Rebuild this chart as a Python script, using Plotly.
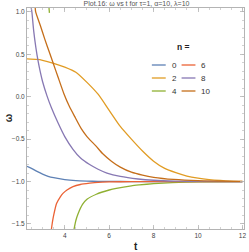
import plotly.graph_objects as go

# ---------------- data ----------------
names = ["0", "2", "4", "6", "8", "10"]
colors = ["#5E81B5", "#E19C24", "#8FB032", "#EB6235", "#8778B3", "#C56E1A"]

t0 = [2.3, 2.5, 2.75, 3.0, 3.25, 3.5, 4.0, 4.5, 5.0, 5.5, 6.0, 7.0, 8.0, 12.0]
w0 = [-0.82, -0.845, -0.88, -0.912, -0.938, -0.955, -0.978, -0.99, -0.995, -0.998, -0.999, -1.0, -1.0, -1.0]

t2 = [2.3, 2.75, 3.0, 3.5, 4.0, 4.5, 5.0, 5.5, 6.0, 6.5, 7.0, 7.5, 8.0, 8.5, 9.0, 9.5, 10.0, 10.5, 11.0, 11.5, 12.0]
w2 = [0.447, 0.44, 0.43, 0.395, 0.35, 0.29, 0.17, 0.03, -0.16, -0.35, -0.50, -0.64, -0.76, -0.845, -0.895, -0.935, -0.96, -0.977, -0.988, -0.995, -0.998]

t4 = [3.29, 3.31, None, 4.42, 4.5, 4.6, 4.8, 5.0, 5.42, 6.0, 6.32, 7.0, 7.36, 8.0, 8.84, 10.0, 12.0]
w4 = [1.05, 0.99, None, -1.56, -1.46, -1.38, -1.27, -1.21, -1.15, -1.10, -1.08, -1.05, -1.04, -1.025, -1.012, -1.004, -1.001]

t6 = [3.40, 3.45, 3.5, 3.63, 3.8, 3.92, 4.1, 4.37, 4.7, 5.12, 5.5, 6.0, 7.0, 8.0, 12.0]
w6 = [-1.56, -1.47, -1.40, -1.26, -1.18, -1.14, -1.10, -1.06, -1.035, -1.02, -1.01, -1.005, -1.001, -1.0, -1.0]

t8 = [2.49, 2.52, 2.6, 2.7, 2.8, 2.9, 3.0, 3.2, 3.4, 3.7, 4.0, 4.37, 4.7, 5.12, 5.5, 5.9, 6.5, 7.3, 8.0, 9.0, 10.0, 12.0]
w8 = [1.05, 1.0, 0.78, 0.58, 0.42, 0.29, 0.18, 0.01, -0.13, -0.31, -0.47, -0.62, -0.72, -0.80, -0.855, -0.90, -0.94, -0.97, -0.985, -0.995, -0.998, -1.0]

t10 = [2.67, 2.69, 2.9, 3.1, 3.3, 3.48, 3.7, 3.97, 4.2, 4.45, 4.75, 5.0, 5.4, 5.7, 6.1, 6.5, 7.0, 7.5, 8.0, 8.9, 10.0, 12.0]
w10 = [1.05, 1.0, 0.84, 0.68, 0.53, 0.395, 0.23, 0.03, -0.11, -0.235, -0.38, -0.47, -0.58, -0.67, -0.76, -0.83, -0.89, -0.925, -0.95, -0.975, -0.99, -0.999]

ts = [t0, t2, t4, t6, t8, t10]
ws = [w0, w2, w4, w6, w8, w10]

title_text = "Plot.16: \u03c9 vs t for \u03c4=1, \u03b1=10, \u03bb=10"
x_title = "t"
y_title = "\u03c9"
legend_title = "n ="

# ---------------- figure ----------------
fig = go.Figure()
for name, col, t, w in zip(names, colors, ts, ws):
    fig.add_trace(go.Scatter(x=t, y=w, mode="lines", name=name,
                             line=dict(color=col, width=1.3, shape="spline", smoothing=0.6),
                             connectgaps=False, showlegend=False, hoverinfo="skip"))

W, H = 249, 252
ml, mr, mt, mb = 27, 3, 8, 23
pw, ph = W - ml - mr, H - mt - mb

def px2paper(x, y):
    return (x - ml) / pw, 1 - (y - mt) / ph

# manual legend (two columns, three rows)
col_x = [153, 183]
row_y = [65, 78, 91]
for i, (name, col) in enumerate(zip(names, colors)):
    cx = col_x[i // 3]
    ry = row_y[i % 3]
    x0, y0 = px2paper(cx, ry)
    x1, _ = px2paper(cx + 14, ry)
    fig.add_shape(type="line", xref="paper", yref="paper", x0=x0, x1=x1, y0=y0, y1=y0,
                  line=dict(color=col, width=1.3))
    lx, _ = px2paper(cx + 18, ry)
    fig.add_annotation(xref="paper", yref="paper", x=lx, y=y0, text=name, showarrow=False,
                       xanchor="left", yanchor="middle",
                       font=dict(size=8, color="#333333", family="Liberation Sans"))

tx, ty = px2paper(185, 47)
fig.add_annotation(xref="paper", yref="paper", x=tx, y=ty, text="<b>" + legend_title + "</b>",
                   showarrow=False, xanchor="center", yanchor="middle",
                   font=dict(size=8.5, color="#222222", family="Liberation Sans"))

# axis titles as annotations for exact placement
ax_x, ax_y = px2paper(137, 247)
fig.add_annotation(xref="paper", yref="paper", x=ax_x, y=ax_y, text="<b>" + x_title + "</b>",
                   showarrow=False, xanchor="center", yanchor="middle",
                   font=dict(size=10, color="#222222", family="Liberation Sans"))
ay_x, ay_y = px2paper(8, 118)
fig.add_annotation(xref="paper", yref="paper", x=ay_x, y=ay_y, text="<b>" + y_title + "</b>",
                   showarrow=False, xanchor="center", yanchor="middle", textangle=-90,
                   font=dict(size=10, color="#222222", family="Liberation Sans"))

axis_common = dict(showgrid=False, zeroline=False, showline=True, linecolor="#b4b4b4", linewidth=1,
                   mirror="ticks", ticks="inside", ticklen=4, tickwidth=0.8, tickcolor="#b4b4b4",
                   tickfont=dict(size=6.5, color="#444444", family="Liberation Sans"))

fig.update_xaxes(range=[2.3, 12.07], tickvals=[4, 6, 8, 10, 12],
                 minor=dict(dtick=0.5, tick0=0, ticks="inside", ticklen=2, tickcolor="#b4b4b4", tickwidth=0.6),
                 **axis_common)
fig.update_yaxes(range=[-1.56, 1.047], tickvals=[-1.5, -1.0, -0.5, 0.0, 0.5, 1.0],
                 ticktext=["\u22121.5", "\u22121.0", "\u22120.5", "0.0", "0.5", "1.0"],
                 minor=dict(dtick=0.1, tick0=0, ticks="inside", ticklen=2, tickcolor="#b4b4b4", tickwidth=0.6),
                 **axis_common)

fig.update_layout(
    width=W, height=H,
    margin=dict(l=ml, r=mr, t=mt, b=mb),
    paper_bgcolor="white", plot_bgcolor="white",
    title=dict(text=title_text, x=(ml + pw / 2) / W, xanchor="center", y=1 - 4 / H, yanchor="middle",
               font=dict(size=7, color="#555555", family="Liberation Sans")),
    showlegend=False,
    hovermode=False,
)

fig.write_html("out.html", config={"displayModeBar": False, "staticPlot": True},
               post_script="document.body.style.margin='0';document.body.style.padding='0';")
